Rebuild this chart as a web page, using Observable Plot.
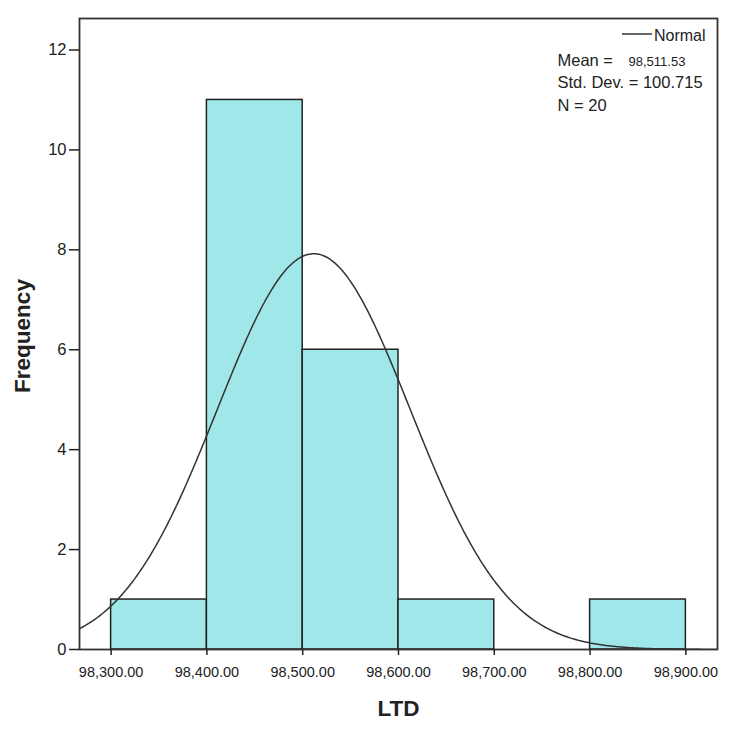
<!DOCTYPE html>
<html><head><meta charset="utf-8">
<script src="https://cdn.jsdelivr.net/npm/d3@7"></script>
<script src="https://cdn.jsdelivr.net/npm/@observablehq/plot@0.6"></script>
<style>
body{margin:0;background:#fff;}
#chart svg{font-family:"Liberation Sans",Arial,sans-serif;}
</style></head>
<body><div id="chart"></div>
<script>
// Histogram bins (LTD) and counts
const binStart = [98300, 98400, 98500, 98600, 98700, 98800];
const binEnd   = [98400, 98500, 98600, 98700, 98800, 98900];
const counts   = [1, 11, 6, 1, 0, 1];
// Normal-curve parameters shown in the legend
const meanVal = 98511.53;
const sdVal = 100.715;
const nVal = 20;
const binWidth = 100;
// Tick values
const xTicks = [98300, 98400, 98500, 98600, 98700, 98800, 98900];
const yTicks = [0, 2, 4, 6, 8, 10, 12];

const bins = binStart.map((s, i) => ({x1: s, x2: binEnd[i], y: counts[i]})).filter(d => d.y > 0);
const xDomain = [98267, 98933];
const curve = d3.range(0, 401).map(i => {
  const x = xDomain[0] + (xDomain[1] - xDomain[0]) * i / 400;
  const z = (x - meanVal) / sdVal;
  return {x, y: nVal * binWidth * Math.exp(-z * z / 2) / (sdVal * Math.sqrt(2 * Math.PI))};
});

const ink = "#222";
const plot = Plot.plot({
  width: 734, height: 732,
  marginLeft: 79, marginRight: 17, marginTop: 18, marginBottom: 83,
  style: {fontFamily: "Liberation Sans, Arial, sans-serif", color: ink, background: "#fff"},
  x: {domain: xDomain, ticks: xTicks, tickFormat: d3.format(",.2f"), label: null},
  y: {domain: [0, 12.63], ticks: yTicks, label: null},
  marks: [
    Plot.rectY(bins, {x1: "x1", x2: "x2", y: "y", fill: "#9fe7e8", stroke: ink, strokeWidth: 1.5, inset: 0}),
    Plot.line(curve, {x: "x", y: "y", stroke: "#333", strokeWidth: 1.5, clip: true}),
    Plot.frame({stroke: "#333", strokeWidth: 1.8}),
    Plot.axisX({ticks: xTicks, tickFormat: d3.format(",.2f"), tickSize: 6, tickPadding: 11, fontSize: 14.5, label: null, stroke: ink, strokeWidth: 1.5}),
    Plot.axisY({ticks: yTicks, tickSize: 10, tickPadding: 3, fontSize: 16.5, label: null, stroke: ink, strokeWidth: 1.5}),
    Plot.text(["Frequency"], {frameAnchor: "left", textAnchor: "middle", lineAnchor: "middle", rotate: -90, dx: -57, dy: 2, fontSize: 22.5, fontWeight: "bold", fill: ink}),
    Plot.text(["LTD"], {frameAnchor: "bottom", lineAnchor: "middle", dy: 59, fontSize: 22.5, fontWeight: "bold", fill: ink}),
    Plot.text(["Normal"], {frameAnchor: "top-right", lineAnchor: "middle", textAnchor: "end", dx: -12, dy: 17, fontSize: 16, fill: ink}),
    Plot.text(["Mean ="], {frameAnchor: "top-right", lineAnchor: "middle", textAnchor: "start", dx: -160, dy: 42, fontSize: 16.5, fill: ink}),
    Plot.text([d3.format(",.2f")(meanVal)], {frameAnchor: "top-right", lineAnchor: "middle", textAnchor: "start", dx: -89, dy: 43, fontSize: 13, fill: ink}),
    Plot.text([`Std. Dev. = ${sdVal}`], {frameAnchor: "top-right", lineAnchor: "middle", textAnchor: "start", dx: -160, dy: 64, fontSize: 16.5, fill: ink}),
    Plot.text([`N = ${nVal}`], {frameAnchor: "top-right", lineAnchor: "middle", textAnchor: "start", dx: -160, dy: 87, fontSize: 16.5, fill: ink})
  ]
});
document.getElementById("chart").appendChild(plot);
// legend swatch line
d3.select(plot).append("line")
  .attr("x1", 622).attr("x2", 652).attr("y1", 34).attr("y2", 34)
  .attr("stroke", "#333").attr("stroke-width", 1.5);
</script>
</body></html>
